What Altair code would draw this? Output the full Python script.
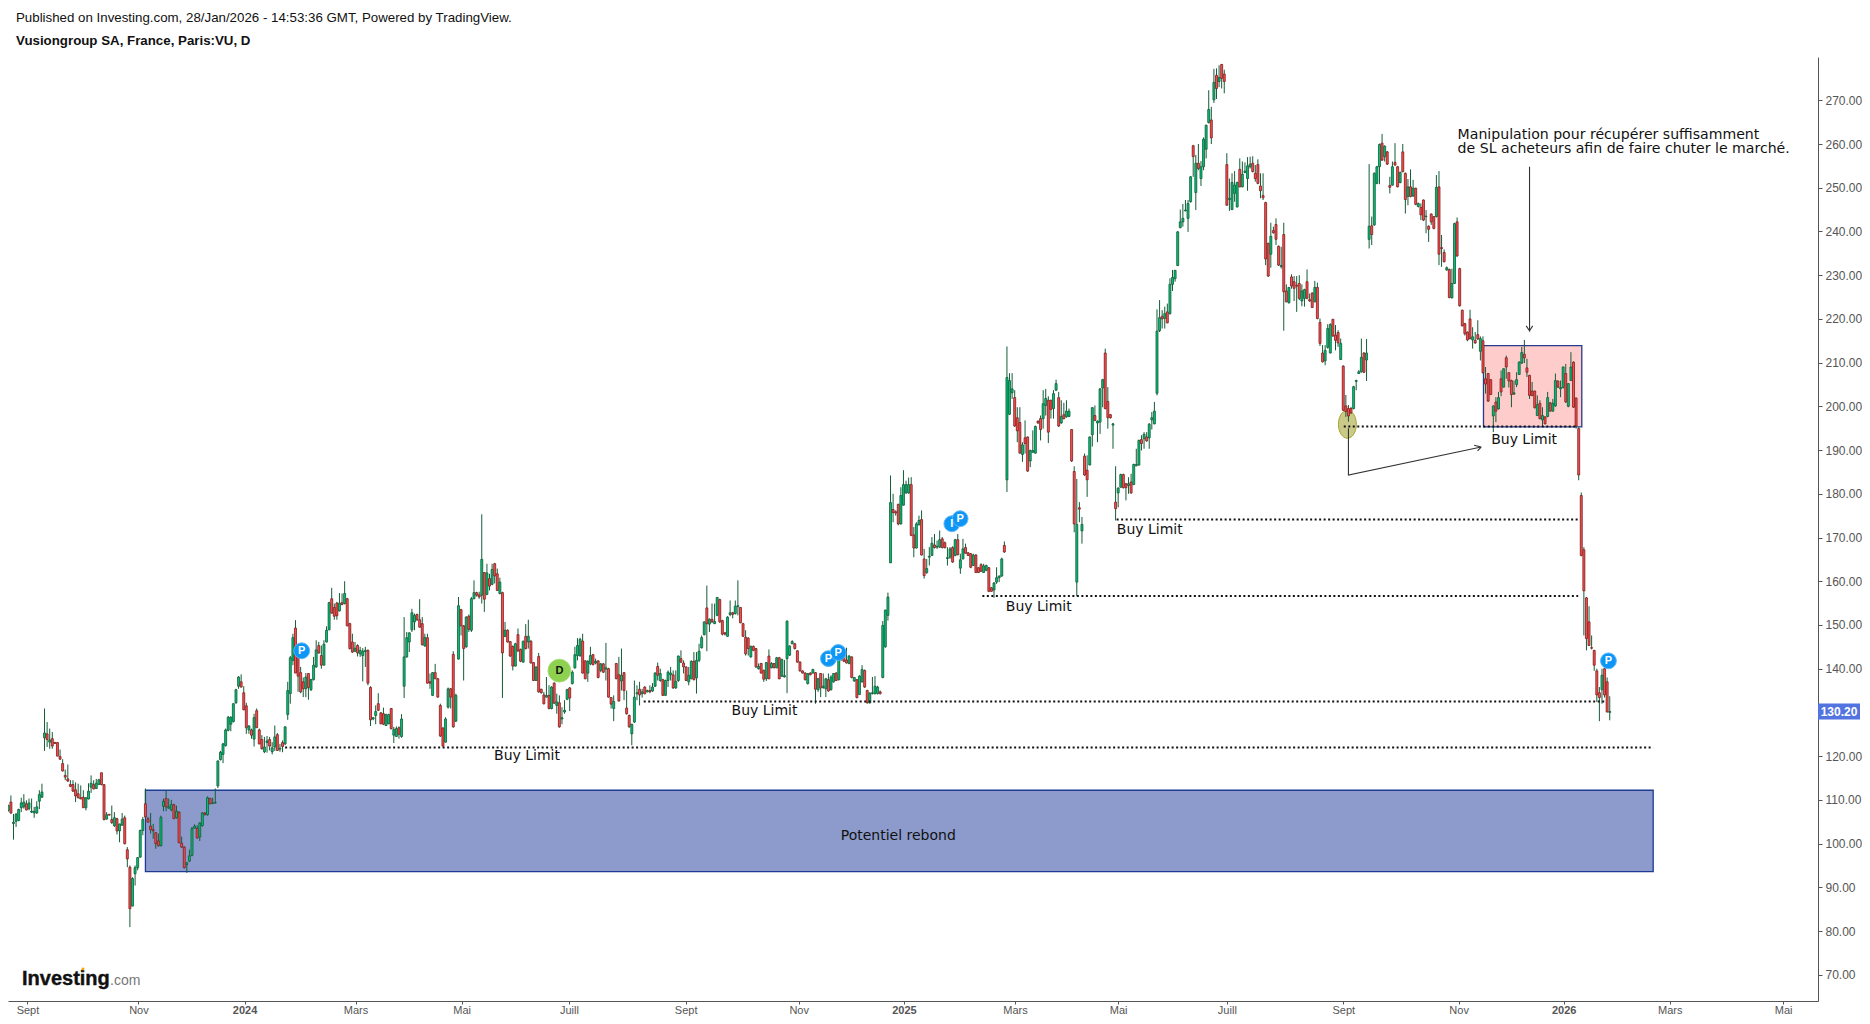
import altair as alt
import pandas as pd

# Candles: (open, high, low, close), one segment per stretch of the chart
seg_2023_a = [
(107.6,108.9,107.3,108.7),(109.5,111,106.8,107),(104.6,106.8,100.9,104.9),(105.1,107,103.8,106.7),(105.3,108,105.1,107.8),
(108.2,110.5,107.2,109.3),(108.4,111.3,108,109.5),(109.1,109.9,107.6,107.7),(108,110.3,107.6,109.3),(107.2,110.3,107,107.4),
(107,108.4,105.9,107.4),(107,109.7,106.8,108.4),(109.7,112.2,107.9,111.2),(110.6,113.7,110.5,111.8),(124.2,130.9,121.2,125.3),
(125.1,127.8,122.1,123.8),(123.2,126.3,121.7,123.7),(124,125.5,121.7,122.3),(123.1,123.3,122.9,122.9),(123.1,123.2,120,120),
(119.9,121.5,119.2,119.3),(118.3,119.3,116.5,116.6),(115.6,116.9,114.5,115.2),(114.8,118.1,114.1,114.3),(113.5,114.5,112.9,113.1),
(113.5,114.5,111.8,112),(112.3,114,109.5,110.9),(111.4,113.7,110.3,110.5),(110.5,113.3,110.2,110.2),(110.6,112.2,108.2,108.2),
(108.2,110.5,107.6,110.5),(110.2,113.8,110.1,112),(112.9,115.6,111.6,113.8),(113.5,114.5,112.4,112.5),(112.6,114.8,112.5,113.8),
(113.5,114.8,113.5,114.6),(116.2,116.2,113.3,113.5),(113.5,113.5,105.3,105.5),(105.6,107.2,105.5,106.6),(106.7,106.7,106.5,106.5),
(105.5,108.7,104.5,104.8),(104.1,107.2,103.8,105.9),(105.7,105.9,102.1,102.9),(102.9,104.5,100.3,104.5),(104.2,107,104.1,105.6),
(105.9,106.4,99.8,100),(98.6,99.2,94.6,96.5),(94.6,95,80.9,85.1),(85.7,92.3,85.7,92),(93.1,95,90.4,94.5),
]
seg_2023_b = [
(94.5,96.9,93.9,96.8),(96.9,103.2,96.8,103),(103,106.1,101.9,105.5),(109.1,112.6,105.9,106.1),(105.7,106.1,104.8,104.9),
(104,107,102.3,103.2),(103.2,104.5,101.1,102.9),(102.5,102.6,98.8,100),(100.6,102.3,99.3,99.5),(99.5,106.4,99.4,106),
(108.5,110.3,107.4,109.7),(110.3,112.2,107.4,108.4),(108.1,110.3,108,108.4),(107.7,110,107.4,108.9),(108.9,109.1,105.6,105.7),
(105.9,108.7,105.7,107.4),(107.2,107.4,100.1,100.2),(100.1,101.6,99,99.2),(99.2,99.4,94.3,94.5),(95.2,95.8,93.3,95.6),
(96,98.6,95.8,97.2),(97.3,103.8,97.1,103.4),(103.5,104.4,103.5,104),(103.5,104.2,101.1,101.3),(101.5,104.9,100.6,104.7),
(104.1,107.2,103.9,107),(107,107.2,106.4,106.7),(106.6,110.8,106.4,110.5),(110.3,110.5,109,109.1),(109.2,110.5,109,109.3),
(109.3,112.6,109.1,109.4),(113.2,119,112.7,118.9),(119.2,121.2,119,120.9),(120.4,123,118.4,122.8),(122.4,126.3,122.2,126),
(125.9,129.2,125.7,128.9),(127.3,129.1,125.7,128.9),(127.9,132.1,127.7,132),(132.2,135.4,132,135.2),(136,138.3,135.4,138.1),
(137,138.7,135.7,135.8),(134.5,136,130.5,130.6),(131.5,132.2,125.1,126.5),(126,127.1,125.1,126.9),(126,126.3,124,124.8),
(123.9,129.7,122.2,128.8),(130.4,130.9,126.5,126.5),(126,126.3,122.7,122.8),(123.8,124.8,121.5,121.7),(121,124.4,120.7,122.1),
(123.1,124.6,120.8,123.5),(123.8,124.4,121.3,122.3),(121,123.2,120.4,121.9),(122.1,127,121.2,124.4),(124.9,125.3,121.2,121.3),
(121.6,122.8,121,121.8),(123.1,123.6,120.9,122.2),(122.8,126.8,122.5,126.7),(129.5,137,128.3,135),(134.3,142.9,132,142.5),
(141.9,148,140.8,147.1),(149.3,151.1,139,139),(142.7,143.1,134.7,138.3),
]
seg_2024_a = [
(139.1,140.4,134.4,134.7),(137,138,133.5,135.4),(135.4,139,133.5,138.1),(138.9,139,132.9,135.7),(135.2,137.7,134.9,137.5),
(137.5,142.7,137.3,140.8),(140.4,146.5,140.2,144.3),(145.3,146.1,143.4,143.6),(143,145.3,140,140.8),(140.8,146.5,140.8,145.6),
(146.1,149.7,146,148.8),(148.9,155.3,148.8,155.1),(156,158.5,152.6,152.7),(154,154.9,151.2,152),(155,155.3,151.2,152.1),
(153.2,157.3,153.1,155),(155.1,157.2,154.5,154.7),(154.9,160,154.7,157.2),(156,156.2,149.7,149.8),(150.3,150.5,144.4,144.6),
(146.1,148,143.6,143.8),(144,146.1,143.8,144.7),(145.3,145.6,142.8,143.6),(143.4,145,142.7,144.2),(143,144.7,137.1,144),
(143.9,145,140.4,144.2),(144.2,144.4,136.2,136.7),(135.7,136,126.9,128.3),(128.5,128.9,128.2,128.8),(129.3,131.6,127.3,130.2),
(132,134.4,130.3,130.5),(129.9,130.1,127.3,127.4),(129.7,131.1,127.1,127.3),(127,129.7,126.9,129.5),(127.4,129.7,127.3,129.5),
(130.9,131,126.1,126.3),(124.8,126.7,123,126.1),(124.5,126.8,124.4,126.3),(126.5,126.8,124,125),(124.5,129.6,124.2,128.5),
(136,151.8,133.3,142.7),(142.7,148.4,142.5,147.1),(146.1,148.3,143.8,148.2),(148.9,153.7,148.4,152.8),(150.7,152.6,148.8,152.2),
(152.4,152.6,150.9,151.2),(151.2,155.9,149.4,149.5),(150.3,151.8,145.3,145.5),(145.2,148,145,147.1),(147.1,148,136.6,136.7),
(137,138.9,135.4,136.7),(133.9,139.2,133.8,139.1),(139.1,141.1,137.6,137.7),(137.7,137.9,133.4,133.5),(131.6,132,124.4,124.6),
(126.4,126.7,122.2,122.3),(123.2,128.9,123.1,128.5),(131.2,135.7,130.9,135.4),(135.4,135.6,130.9,133.5),(143.3,144,126.5,126.7),
(128,134.3,127.8,133.9),(142.2,156.4,142.1,154.4),(153.5,153.7,147.6,149.8),(149.8,150,137.3,144.6),(145,152,144.8,151.8),
(152,152.4,148.4,149),(148.8,156.4,148.4,156),(156,160.2,155.9,157.4),(157.4,157.6,156.5,156.8),(156.9,157.6,156,156.4),
(156.8,175.3,154.9,165),(162,162.1,153,155.9),(157,164,156.8,161.9),(160.6,161.7,157.9,158.9),(159.3,164,159.1,162.7),
(164,164.2,159.5,161.2),(161.7,162.9,157.8,157.9),(157.2,160.8,157,159.8),(157.4,157.6,133.3,143.6),(147.4,150.7,147.2,148.8),
(148.8,149,146,146.1),(146.2,146.3,142.7,142.9),(145.1,145.3,139.6,140.6),(140.6,145.9,140.5,145.7),(147.8,149.2,143.8,144.1),
(144.4,144.6,141.5,141.7),(141.5,146.5,141.4,146.2),(147.4,150.2,144.4,144.6),
]
seg_2024_b = [
(146.1,151.2,144.6,147.4),(146.3,146.5,141.2,141.3),(141.4,141.5,137.2,137.3),(137.3,140.5,137.2,140.4),(142.8,143.6,134.5,134.7),
(135.3,135.4,134.3,134.5),(134,134.7,131.8,132),(133.5,138.1,133.4,133.9),(133.9,136.2,130.7,130.9),(130.9,136,130.7,135.8),
(136.7,136.9,132,132.1),(131.6,134.3,129.7,132.4),(132.2,133.9,126.5,126.7),(128.5,131.2,127.3,128.8),(130.1,132.8,129.7,130.5),
(133,135.4,132.8,135.2),(135.6,135.8,130.3,133.3),(136.6,139.6,136.4,139.2),(140.2,145,140,143.2),(143,147,141.9,145.3),
(143,147.1,142.7,146.7),(146.3,148,138.9,139),(141.8,141.9,137.6,137.7),(139,141.9,137,141.7),(141.1,145,140.8,143),
(143.2,143.4,140.8,140.9),(141.3,142.3,141,141.7),(141.8,141.9,137.8,138),(139.6,141.3,139.2,141.1),(141.1,141.3,139,139.2),
(139.9,145.9,137.3,140.2),(140,140.2,133.4,133.5),(133.4,133.5,130.9,131.9),(130.9,133.9,128,132.5),(141.2,141.3,137.6,137.7),
(138.6,142.7,132.5,132.6),(137.2,144.6,135,138.5),(139.1,139.2,132.8,135),(131,135,129.5,129.7),(129.3,129.5,126.5,126.7),
(125.1,127.4,122.5,127.3),(127.8,137.3,127.6,133.5),(134.3,136.2,132.8,134.5),(135.3,137,131.6,134),(134.3,135.4,133.4,134.7),
(135.8,136,134.1,134.3),(134.7,135.2,134.6,135),(135,136.2,134.4,134.7),(134.9,136.7,134.7,135.8),(136,139.2,135.8,139),
(140.5,141.4,137.3,138.5),(137.3,140,137,138.9),(137.5,137.7,133.8,133.9),(133.9,137.5,133.8,137.3),(137.3,139.6,135.8,139.2),
(138.6,140.4,137.3,139),(138.6,139.6,135.4,135.6),(135.6,139.6,135.4,137.1),(137.3,143,137,142.9),(142.3,144.2,141.3,141.5),
(141.3,141.9,138.9,140.4),(140.4,140.5,137.2,137.3),(137,140.4,136.2,138.5),(137.7,141.9,137.6,141.7),(141.7,143.8,137.3,137.5),
(137.9,143.8,134.3,141.9),
]
seg_2024_c = [
(141.9,145.7,141.5,144),(144.8,147.6,144.6,147.1),(147.8,150.8,147.6,150.7),(153.9,159,144,150.3),(150.2,151.5,148.4,151.3),
(151.3,154.9,150.5,150.7),(150.3,154.9,150.2,150.8),(152.2,156.4,152,156.3),(155.8,156,150.5,150.7),(151,151.2,147.6,147.9),
(148.2,148.4,147.6,147.9),(147.4,152,147.3,151.8),(152.4,155.6,152,152.8),(152.8,153,151.5,152.4),(152.6,155.6,152.4,154.3),
(154.2,160.2,152.2,154.4),(154,154.1,150.4,150.5),(150.3,150.5,147.3,147.4),(147.2,148.8,143,143.4),(147,147.2,143,144.6),
(142.7,145.3,142.5,145.1),(145.1,145.3,144,144.2),(144.6,144.7,140.2,140.4),(140,141.2,139.8,140.5),(141.2,141.3,138.9,139),
(139.6,139.8,137,137.6),(137.7,141.5,137.2,141.4),(142.9,144.4,137.6,137.7),(140.2,141.5,140.1,141.2),(141.2,141.3,140.1,140.2),
(140.2,142.7,140.1,142.5),(142.5,142.7,137.6,137.7),(138.3,142.3,138.1,142.1),(138.1,142,138,138.4),(142.3,151,134.4,150.9),
(143.1,145.3,142.9,145.2),(145.7,146.5,145.6,146.2),(145.7,145.9,144.4,144.6),(144.1,144.2,141.4,141.5),(141.5,141.7,139.3,139.5),
(139.5,139.6,138.9,139),(139,139.2,137.3,137.5),(136.6,139,136.4,138.9),(139,139.2,138.5,138.6),(139,140,138.9,139.8),
(139.1,139.2,132,135.3),(135.2,137.9,134.7,137.7),(138.9,139,133.5,135.6),(135.7,138.9,135.4,136),(135.4,137.9,133.5,137.7),
(137.5,138.9,134.7,134.9),(135.2,138.5,135,138.1),(137,139,136.8,138.9),(139,139.2,137.2,137.3),(137.5,143.8,137.3,142),
(142,144.5,141.9,143.5),(143,143.4,141.5,141.7),(142,144.8,141.2,141.3),(141.2,143.1,141,142.9),(142.7,142.8,137.8,138),
(137.2,138.1,137,138),(137.5,137.6,133.2,133.4),(134.1,138.5,134,138.3),(137,140.8,136.8,139.8),(139.6,139.8,135.6,135.8),
(135,135.2,132,132.2),(132.2,134.6,132,134.4),(134.3,138.1,134.1,134.5),(134.3,138.3,134.1,136),(134.3,136.1,134.1,135.8),
(134.7,135,134.1,134.3),(138,150.9,137.8,149.9),(145,153.5,144.8,153.4),(152.2,157.4,151,156.4),
]
seg_2025_a = [
(164.2,184.2,164.2,178),(176.4,180,173.5,175.7),(175.9,176.2,175,175.6),(177.6,177.7,172.8,173.1),(173.1,181.5,173,179.6),
(177.4,185.4,177.3,182.1),(180.2,183,180,182.1),(180.2,183.7,180,182.1),(182.1,183.8,170.3,170.5),(170.6,172.4,165.5,167.6),
(167.6,173.5,167.5,173.1),(172.9,175,172.8,173.9),(174.1,176.2,165.9,166),(165.1,167.4,160.6,161.3),(162,165.1,161.7,162.9),
(165.5,167.8,163.6,165.7),(165.9,170.1,165.8,168.7),(168.3,170.8,167.5,167.7),(167.8,169.3,167.4,168),(167.8,171.6,167.6,169.5),
(169.7,170.1,167.5,167.7),(168.8,169.1,167.5,167.7),(165.2,167.8,163.6,165.4),(165.5,167.8,165.1,167.4),(167.7,168,164.2,164.4),
(165.9,169.7,165.7,169.5),(169.5,170.8,165.9,166.1),(163,166.3,161.7,164.9),(165.1,169.7,165,167.4),(167.7,168.6,166.3,166.4),
(166.5,166.7,165.8,165.9),(166.3,166.4,163,163.2),(163.6,166.3,163.5,166),(166,166.2,161.9,162),(163.1,163.2,161.9,162),
(163.8,164.1,162.1,162.3),(162,164,161.9,163.5),(162.5,163.8,162.3,163.6),(163.1,163.2,157.5,157.7),(158.5,158.7,157.6,157.7),
(158,159.8,156.2,159.6),(159.8,163.2,159.4,160.8),(160.8,161.3,159.8,161.2),(161.2,165.4,161,165.1),(168.2,169.1,166.5,166.7),
]
seg_2025_b = [
(183.2,213.7,180.4,206.6),(198.2,207.6,198,205.9),(203.1,207.6,201.7,204),(202,203.7,195.3,195.5),(197.4,199.8,191.8,194.4),
(196.3,199.8,189.2,189.3),(189,191.8,187.3,191.2),(192.8,196.8,189.2,191.5),(193,193.1,185,185.2),(187.5,190.1,186.1,189.9),
(189.5,194.5,189.4,189.9),(189.3,195.6,189.2,195.4),(196.6,196.8,196,196.2),(197.2,197.9,192.2,194.7),(197.2,203.7,194.9,200.6),
(200.2,204,197.9,201.8),(201.4,202.3,191.6,194.1),(201.4,201.5,197.2,199.3),(199.5,203.7,197.2,202.9),(203.7,206.1,203.5,205.2),
(202,203.3,195.3,195.5),(196.2,201.4,196,197.7),(198.1,200.8,197,197.2),(197.6,201.4,197.4,198.9),(197.7,199.5,197.6,198.9),
(194.7,194.8,187.3,187.5),(185.1,186.3,171.2,173.1),(159.8,183.4,156.6,173),(176.8,178.1,173.5,176.5),(171.5,174.7,168.6,173),
(188.6,189.2,184.1,184.3),(185.4,188.8,179.3,183.2),(186.6,193.1,186.5,193),(193.5,199.8,190.8,199.7),(197.9,200.2,196.6,196.8),
(196.2,196.8,191.8,196.6),(196.4,204.2,193.7,204),(204.2,206.3,199.8,206.1),(212.2,213.2,199.3,199.5),(201.1,204.4,194.9,197.4),
(198.1,198.2,197.2,197.4),(195.7,196.2,190.3,196),
]
seg_2025_c = [
(178.1,186.3,173.9,176.6),(180.2,181.5,176.9,181.3),(181.5,184.6,181.4,184.4),(184.4,184.6,181.2,181.4),(182.3,182.5,178.5,181.4),
(181.9,183.8,180,182.3),(182.7,184.6,180,180.2),(182.1,186.9,182,186.7),(186.4,190.3,186.3,186.7),(186.6,192.4,186.4,192.2),
(192.4,193.4,189.9,191.5),(192.6,194.1,190.3,193.6),(193,194.1,191.9,192.1),(192.8,196.2,190.3,195.9),(196.9,198.7,194.7,197.4),
(196,201,195.9,198.9),(203,222.2,202.5,217.2),(217.3,224.3,217,220.3),(220.6,222,217.8,220),(220.1,222.8,217.8,221.2),
(221.6,223.5,219,219.1),(221.2,229.3,221,227.9),(227.9,231.2,226.4,229.5),(229.2,231.2,228.5,231.1),(232.2,240.1,232.1,239.9),
(240.9,245,240.7,242.2),(242.2,246.3,241.1,243),(244.7,247.2,244.6,244.9),(243,247.2,239.9,246.4),(246.8,252.7,246.6,252.5),
(259.6,259.8,252.5,257.1),(248.9,257.5,244.9,255.6),(255.6,260,254,254.4),(252.1,256.1,250.4,254.8),(254.8,261.5,254,261.1),
(258.8,264.4,256.7,264.3),(264.9,272.3,264.7,267.9),(265.5,268.5,260,261.4),(270.1,277.2,269.4,274.1),(275.7,277.3,270.3,272.7),
(274.3,278,273,275.2),(278.2,278.3,272.7,275),(276,277,271.6,274.3),
]
seg_2025_d = [
(255.3,257.9,245.9,246),(247.3,252.1,244.7,247.6),(245,253.3,244.9,251.2),(248.7,253.8,246.8,250.6),(245.6,251.4,245.5,251.2),
(254.2,256.7,250.1,250.2),(250.2,256,250.1,253.1),(253.5,255.8,253.3,253.8),(252.1,257,249.3,255),(254.8,257.1,254.4,255.4),
(255.6,257.2,253.5,253.7),(253.3,255.2,251.4,252.1),(255.3,256.5,250.8,251),(250.4,253.3,247.6,249.3),(248.2,253.3,247.2,247.7),
(246.6,246.8,232.3,233.7),(237.3,237.4,229.6,229.8),(234.8,242,231.7,238.9),(240.2,241.1,239.5,239.7),(241.6,243,236.9,238.2),
(236.6,236.8,232.1,232.3),(232,236.5,231.5,232.2),(239.3,242,217.3,226.2),(226.4,227.9,223.8,223.9),(223.7,227.3,223.5,227.2),
(229.6,230.2,226.9,227.5),(228.5,229.8,224.1,227),(227.7,229.8,221.6,227.5),(228.1,230,224.3,224.7),(224.1,227.9,222.9,226.4),
(224.7,226.9,222.8,226.7),(228.5,231.3,224.5,224.7),(224.4,225.8,223.9,224.1),(225.9,226.1,222.5,222.6),(223.9,228.7,223.8,227.2),
(227.2,228.3,219.9,220.1),(219.2,220.1,213.8,214.4),(212.2,214,210,210.2),(210.4,214,209.4,212.8),(213.5,218.8,213.2,217.8),
(212.2,219,212.1,218.7),(219.9,220,215.9,216.1),(216.3,218.6,212.8,215.1),(216.9,217.4,213.6,214.5),(210.7,215.5,210.6,214.4),
(209.2,209.4,199,199.1),(200.1,202.6,197.6,198.8),(199.5,200.3,196.5,197.8),(199.5,199.9,198.3,198.5),(199.5,204.7,199.3,204.5),
(205.7,206.1,203.7,205.9),(207.5,208.3,207.4,207.9),(207.9,215.5,207.7,211.2),(212.2,212.4,207.6,207.8),(210.6,215.4,205.8,212.2),
]
seg_2025_e = [
(238.2,255.4,236.1,241.2),(241.3,243.4,236.9,239.3),(241.5,253.5,241.3,253.3),(251,255,250.8,254.8),(254.8,260.1,250.8,259.9),
(260.2,262.3,256.2,256.3),(257.1,259.7,256,259.5),(258.2,258.4,255.2,255.4),(250.5,252.5,248.7,250.1),(250.6,256,250.5,254.8),
(255.8,260.2,255,255.2),(254.8,255,250.1,250.2),(251.2,253.7,251,253.5),(258.2,260,253.5,253.7),(253.3,253.5,244.1,247.3),
(248,252,246,250.2),(250.2,254.2,247.8,248),(248.1,251.8,247.9,249.9),(249.9,250,246,246.2),(245.7,246.6,245.5,246.4),
(245.5,246.4,242.6,243.8),(247.2,247.3,242.4,242.6),(243.4,244.9,239.6,243.5),(241.2,241.4,237.6,240.5),(244,244.1,241.5,242.2),
(243.4,243.5,240.5,240.7),(243.4,252.9,243.2,250.1),(250.2,253.8,232.3,234.8),(236.3,239.2,231.9,236.1),(235.2,235.9,232.9,233.1),
(231.2,232,231,231.7),(231.3,231.5,224.7,224.9),(224.8,231.5,224.7,228.1),(228.1,242,228,241.8),(242.2,243.2,234.2,234.4),
(231.5,231.7,222.8,223),
]
seg_2025_f = [
(222,222.1,218.3,218.4),(218.9,219.1,216.2,216.6),(217,217.1,214.9,215.2),(220,222.1,215.3,215.5),(215.2,218.1,213.2,215.9),
(215.1,217,214.3,214.5),(216.4,219.7,215.2,215.4),(212.6,216,210.5,215.5),(215,216,207.5,207.7),(206.3,209,202.9,205.1),
(207.5,207.6,201,201.2),(206.1,206.2,202.6,202.7),(197.8,200.2,194.1,200.1),(201,202.1,196.4,198.9),(199.4,203.3,199.3,202),
(206.3,208.2,202.3,203.3),(204.4,208.7,204.3,208.6),(211.1,211.6,206.3,209),(207.7,207.8,204.3,205.8),(205.9,206.1,199.8,202.7),
(202.8,205.9,202.6,203.1),(205,207.8,204.4,206.1),(207.3,210.3,207.2,210.1),(209.9,213.6,209.7,212.3),(211.9,215.2,209.9,211.1),
(208.8,210.9,206.7,207.8),(207.1,207.2,201.7,202.5),(203.5,205.6,202.3,202.5),(203.5,203.6,199.5,199.7),(197.9,202.5,197.8,200.4),
(200.7,201.4,197,197.2),(196.9,199.8,195.4,197.9),(197.6,197.7,195.9,196),(197.7,203.3,197.5,202),(200.8,201,198.8,198.9),
(198.9,201.7,198.8,200.7),(200.1,207.5,199.9,205.9),(205.8,205.9,204.2,204.4),(204,205.9,202.1,204.3),(204.3,209.1,204.1,209),
(207.5,209.7,200.8,201),(200,205.3,199.8,205.2),(205.9,212.4,205.8,209),(210.1,210.3,199.7,199.8),(201.9,202,194.9,195.5),
(194.9,195.2,183.1,184.3),
]
seg_2026 = [
(179.6,180.3,165.7,165.9),(167.2,167.8,147.6,157.8),(156.2,156.4,144.2,146.9),(150.7,154.3,145.2,145.3),(144.8,147.6,144.4,144.7),
(144.2,144.3,139.5,140.8),(139.5,140,132.4,134),(134.5,135.8,128,133.4),(135.2,140,132,138.5),(140,140.1,133.4,134),
(137,138,130,130.1),(130,133.7,128.2,130.2),
]
segments = [seg_2023_a, seg_2023_b, seg_2024_a, seg_2024_b, seg_2024_c, seg_2025_a, seg_2025_b,
            seg_2025_c, seg_2025_d, seg_2025_e, seg_2025_f, seg_2026]

tick_pos = [7.4, 50.3, 91.3, 134.2, 175.2, 216.7, 261.8, 305.5, 346.2, 389.1, 429, 471, 516, 560.6, 601.2, 642.2, 686]
tick_txt = ["Sept", "Nov", "2024", "Mars", "Mai", "Juill", "Sept", "Nov", "2025", "Mars", "Mai", "Juill", "Sept", "Nov", "2026", "Mars", "Mai"]
year_pos = [91.3, 346.2, 601.2]
price_ticks = [70, 80, 90, 100, 110, 120, 140, 150, 160, 170, 180, 190, 200, 210, 220, 230, 240, 250, 260, 270]

level_price = [122.0, 132.5, 156.6, 174.1, 195.4]
level_from = [107, 245.6, 376.5, 428.4, 516.2]
level_to = [635.8, 617, 606.8, 606.8, 606.3]

note_text = ["Buy Limit", "Buy Limit", "Buy Limit", "Buy Limit", "Buy Limit", "Potentiel rebond"]
note_i = [200.5, 292.3, 398.3, 441.2, 585.9, 344]
note_p = [120.4, 130.6, 154.3, 172, 192.5, 101.9]

manip_text = ["Manipulation pour récupérer suffisamment", "de SL acheteurs afin de faire chuter le marché."]
manip_i = [560.2, 560.2]
manip_p = [262.4, 259.1]

arrow_id = [1, 1, 1, 1, 1, 2, 2, 2, 2]
arrow_i = [518, 518, 569.3, 566.6, 569.3, 588, 588, 586.7, 588]
arrow_p = [195, 184.3, 190.7, 191.1, 190.7, 254.8, 217.3, 218.4, 217.3]
arrow_extra_i = [569.3, 567.9, 588, 589.2]
arrow_extra_p = [190.7, 189.8, 217.3, 218.4]
arrow_extra_id = [3, 3, 4, 4]

badge_text = ["P", "D", "P", "P", "I", "P", "P"]
badge_i = [113.4, 213, 317, 320.8, 364.7, 367.9, 618.5]
badge_p = [144.1, 139.55, 142.3, 143.7, 173.15, 174.3, 141.8]

rows = [r for seg in segments for r in seg]
candles = pd.DataFrame(rows, columns=["o", "h", "l", "c"])
candles["i"] = range(len(candles))
candles["dir"] = ["up" if c >= o else "down" for o, c in zip(candles["o"], candles["c"])]

xs = alt.Scale(domain=[-0.12, 699.5], nice=False, zero=False, padding=0)
ys = alt.Scale(domain=[64.0, 279.9], nice=False, zero=False)
UI = "Liberation Sans"
ANN = "DejaVu Sans"

label_expr = "[" + ",".join(f"'{t}'" for t in tick_txt) + "][indexof([" + ",".join(str(t) for t in tick_pos) + "],datum.value)]"
x_axis = alt.Axis(values=tick_pos, labelExpr=label_expr, title=None, grid=False, labelOverlap=False,
                  labelFont=UI, labelFontSize=11, labelColor="#555555", domainColor="#555555", tickColor="#555555",
                  tickSize=3, labelPadding=0, labelFlush=False,
                  labelFontWeight={"condition": {"test": "indexof([" + ",".join(str(t) for t in year_pos) + "],datum.value)>=0", "value": "bold"}, "value": "normal"})
y_axis = alt.Axis(values=price_ticks, format=".2f", orient="right", title=None, grid=False, labelFont=UI, labelFontSize=12,
                  labelColor="#555555", domainColor="#555555", tickColor="#555555", tickSize=4, labelPadding=3, labelFlush=False)


def X(f):
    return alt.X(f, scale=xs, axis=x_axis, title=None)


def Y(f):
    return alt.Y(f, scale=ys, axis=y_axis, title=None)


kinds = ["blue", "red", "up", "down"]
fill_scale = alt.Scale(domain=kinds, range=["#8c9bcb", "#ffcccc", "#00c176", "#ff4d4d"])
stroke_scale = alt.Scale(domain=kinds, range=["#1f3a93", "#283a8c", "#145c38", "#7a1f1f"])

zones = pd.DataFrame({"a": [53, 570.2], "b": [635.8, 608.2], "lo": [93.6, 195.3], "hi": [112.2, 213.9], "z": ["blue", "red"]})
zone_layer = alt.Chart(zones).mark_rect(strokeWidth=1.3).encode(
    x=X("a:Q"), x2="b:Q", y=Y("lo:Q"), y2="hi:Q",
    fill=alt.Fill("z:N", scale=fill_scale, legend=None),
    stroke=alt.Stroke("z:N", scale=stroke_scale, legend=None),
)

ellipse = alt.Chart(pd.DataFrame({"i": [517.6], "p": [195.9]})).mark_point(
    shape="M -0.64,0 A 0.64 1 0 1 1 0.64 0 A 0.64 1 0 1 1 -0.64 0 Z", size=784, filled=True,
    fill="#c9c98a", stroke="#a9a42a", strokeWidth=1, opacity=1).encode(x=X("i:Q"), y=Y("p:Q"))

wicks = alt.Chart(candles).mark_rule(color="#145c38", strokeWidth=1).encode(
    x=X("i:Q"), y=Y("l:Q"), y2="h:Q")

bodies = alt.Chart(candles).mark_bar(size=2, strokeWidth=0.8, orient="vertical").encode(
    x=X("i:Q"), y=Y("o:Q"), y2="c:Q",
    fill=alt.Fill("dir:N", scale=fill_scale, legend=None),
    stroke=alt.Stroke("dir:N", scale=stroke_scale, legend=None),
)

levels = pd.DataFrame({"p": level_price, "a": level_from, "b": level_to})
level_layer = alt.Chart(levels).mark_rule(color="#111111", strokeWidth=2, strokeDash=[2, 2.5]).encode(
    x=X("a:Q"), x2="b:Q", y=Y("p:Q"))

arrows = pd.DataFrame({"id": arrow_id + arrow_extra_id, "i": arrow_i + arrow_extra_i, "p": arrow_p + arrow_extra_p})
arrows["n"] = range(len(arrows))
arrow_layer = alt.Chart(arrows).mark_line(color="#333333", strokeWidth=1.1).encode(
    x=X("i:Q"), y=Y("p:Q"), detail="id:N", order="n:Q")

badges = pd.DataFrame({"t": badge_text, "i": badge_i, "p": badge_p})
badges["kind"] = ["green" if t == "D" else "blue" for t in badge_text]
badge_blue = alt.Chart(badges[badges.kind == "blue"]).mark_point(shape="circle", filled=True, fill="#0d96f6", stroke="#5ab6f8", strokeWidth=1, size=250, opacity=1).encode(
    x=X("i:Q"), y=Y("p:Q"))
badge_green = alt.Chart(badges[badges.kind == "green"]).mark_point(shape="circle", filled=True, fill="#8ed14f", stroke="#a8dc78", strokeWidth=1, size=520, opacity=1).encode(
    x=X("i:Q"), y=Y("p:Q"))
badge_txt = alt.Chart(badges).mark_text(font=UI, fontWeight="bold", fontSize=11, baseline="middle", align="center").encode(
    x=X("i:Q"), y=Y("p:Q"), text="t:N",
    color=alt.Color("kind:N", scale=alt.Scale(domain=["blue", "green"], range=["#ffffff", "#111111"]), legend=None))

notes = pd.DataFrame({"t": note_text, "i": note_i, "p": note_p})
note_layer = alt.Chart(notes).mark_text(font=ANN, fontSize=14, color="#111111", baseline="middle", align="center", dy=1.2).encode(
    x=X("i:Q"), y=Y("p:Q"), text="t:N")
manip = pd.DataFrame({"t": manip_text, "i": manip_i, "p": manip_p})
manip_layer = alt.Chart(manip).mark_text(font=ANN, fontSize=14.1, color="#111111", baseline="middle", align="left", dy=1.2).encode(
    x=X("i:Q"), y=Y("p:Q"), text="t:N")

last_box = alt.Chart(pd.DataFrame({"lo": [128.37], "hi": [132.03]})).mark_rect(fill="#5273e0").encode(
    x=alt.value(1810), x2=alt.value(1852), y=Y("lo:Q"), y2="hi:Q")
last_txt = alt.Chart(pd.DataFrame({"p": [130.2], "t": ["130.20"]})).mark_text(font=UI, fontSize=12, fontWeight="bold", color="white", baseline="middle", align="center").encode(
    x=alt.value(1831), y=Y("p:Q"), text="t:N")

logo_a = alt.Chart(pd.DataFrame({"t": ["Investing"]})).mark_text(font=UI, fontWeight="bold", fontSize=20, color="#111111", stroke="#111111", strokeWidth=0.4, align="left", baseline="middle").encode(
    x=alt.value(14), y=alt.value(922), text="t:N")
logo_b = alt.Chart(pd.DataFrame({"t": [".com"]})).mark_text(font=UI, fontSize=14, color="#777777", align="left", baseline="middle").encode(
    x=alt.value(102), y=alt.value(924), text="t:N")
logo_c = alt.Chart(pd.DataFrame({"t": ["dot"]})).mark_point(shape="circle", filled=True, fill="#f7a600", size=8, opacity=1).encode(
    x=alt.value(75), y=alt.value(912))

chart = alt.layer(
    zone_layer, ellipse, wicks, bodies, level_layer, arrow_layer, badge_blue, badge_green, badge_txt,
    note_layer, manip_layer, last_box, last_txt, logo_a, logo_b, logo_c,
).properties(
    width=1810, height=944,
    padding={"left": 0, "top": 49, "right": 44, "bottom": 15},
    autosize=alt.AutoSizeParams(type="none"),
    background="white",
    title=alt.TitleParams(
        text="Published on Investing.com, 28/Jan/2026 - 14:53:36 GMT, Powered by TradingView.",
        subtitle="Vusiongroup SA, France, Paris:VU, D",
        anchor="start", frame="group", dx=8, offset=10, font=UI, fontSize=13.3, fontWeight="normal", color="#111111",
        subtitleFont=UI, subtitleFontSize=13.3, subtitleFontWeight="bold", subtitleColor="#111111", subtitlePadding=9),
).configure_view(stroke=None)

chart.save("out.html", embed_options={"renderer": "svg", "actions": False})
